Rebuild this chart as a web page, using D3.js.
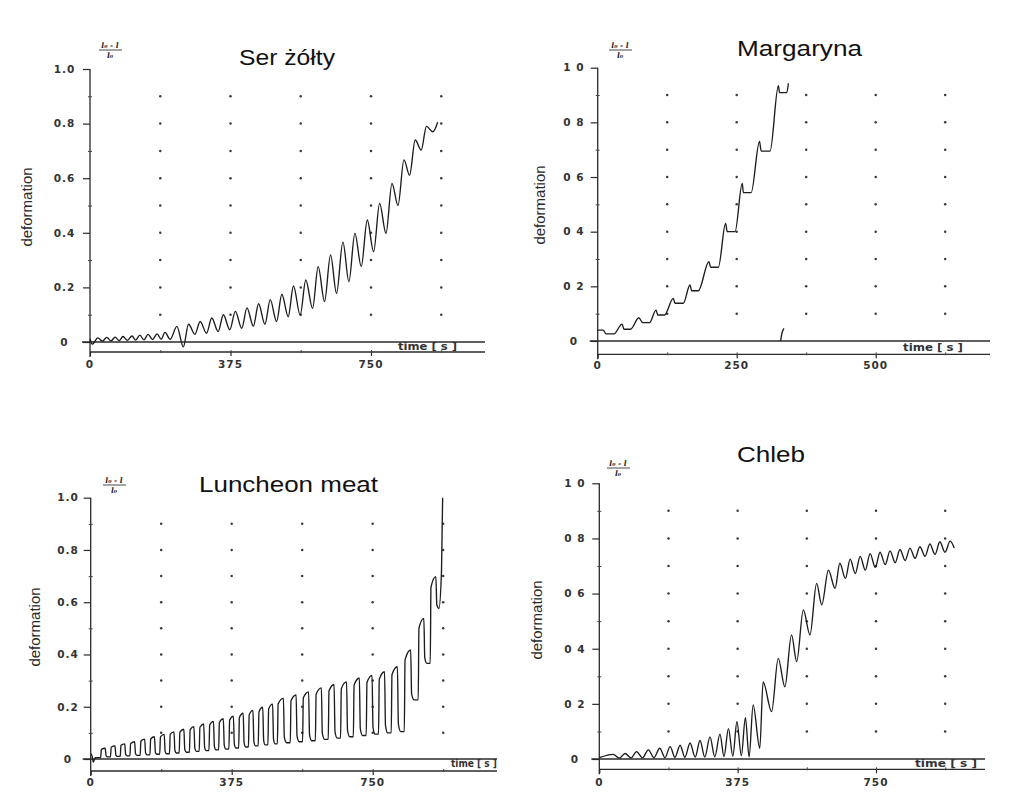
<!DOCTYPE html>
<html>
<head>
<meta charset="utf-8">
<title>Deformation vs time</title>
<script src="https://d3js.org/d3.v7.min.js"></script>
<style>
  body { margin: 0; background: #fff; }
  svg { display: block; }
  .title { font-family: "Liberation Sans", Arial, sans-serif; font-size: 22px; fill: #111; }
  .ylab, .xlab { font-family: "DejaVu Sans", sans-serif; font-weight: bold; font-size: 10.5px; fill: #333; }
  .axtitle { font-family: "Liberation Sans Narrow", "Liberation Sans", Arial, sans-serif; font-size: 15px; fill: #2a2a2a; }
  .timelab { font-family: "DejaVu Sans", sans-serif; font-size: 10px; font-weight: bold; fill: #333; }
  .frac { font-family: "DejaVu Serif", serif; font-style: italic; font-weight: bold; font-size: 7.5px; fill: #222; }
  .curve { fill: none; stroke: #1c1c1c; stroke-width: 1.35; }
  .axis-line { stroke: #2a2a2a; stroke-width: 1.3; }
  .dot { fill: #3a3a3a; }
</style>
</head>
<body>
<div id="vis"></div>
<script>
// ---- data ----

// Ser żółty: peaks and valleys of the creep / recovery cycles
const serPeakT = [21, 45, 67, 88, 112, 133, 155, 179, 200, 232, 263, 294, 325, 356, 388, 419, 450, 481, 512, 543,
                  576, 609, 642, 675, 707, 740, 773, 806, 838, 868, 898, 928];
const serPeakV = [0.015, 0.017, 0.018, 0.02, 0.022, 0.025, 0.028, 0.03, 0.035, 0.057, 0.065, 0.075, 0.088, 0.1, 0.112,
                  0.125, 0.14, 0.155, 0.175, 0.205, 0.227, 0.276, 0.319, 0.367, 0.398, 0.447, 0.508, 0.581, 0.667, 0.74, 0.79, 0.805];
const serValleyT = [0, 6, 33, 56, 78, 100, 122, 144, 167, 190, 214, 249, 280, 311, 342, 373, 405, 436, 467, 498, 529,
                    561, 594, 626, 658, 691, 724, 757, 790, 822, 853, 884, 915];
const serValleyV = [0.012, -0.008, 0.003, 0.004, 0.005, 0.006, 0.007, 0.008, 0.009, 0.01, 0.01, -0.018, 0.028, 0.032,
                    0.038, 0.045, 0.05, 0.058, 0.065, 0.075, 0.093, 0.099, 0.123, 0.148, 0.178, 0.221, 0.276, 0.331,
                    0.398, 0.5, 0.611, 0.703, 0.77];

// Margaryna: step curve
const margT = [0, 10, 15, 29, 44, 47, 59, 74, 81, 93, 105, 108, 120, 136, 139, 154, 166, 169, 181, 200, 203, 217,
               230, 233, 247, 260, 262, 276, 291, 294, 310, 325, 327, 340, 343];
const margV = [0.04, 0.04, 0.026, 0.026, 0.062, 0.043, 0.043, 0.085, 0.067, 0.067, 0.113, 0.095, 0.095, 0.156, 0.138,
               0.138, 0.205, 0.184, 0.184, 0.29, 0.27, 0.27, 0.43, 0.40, 0.40, 0.577, 0.543, 0.543, 0.73, 0.695, 0.695,
               0.934, 0.909, 0.909, 0.943];
const margTailT = [329, 331, 335];
const margTailV = [0, 0.025, 0.046];

// Luncheon meat: square-wave cycles (centre of loaded plateau, top, bottom after unloading)
const lunT = [33, 59, 85, 111, 138, 164, 190, 216, 242, 269, 295, 321, 347, 374, 400, 426, 452, 478, 505, 539,
              572, 606, 640, 673, 707, 741, 774, 808, 843, 879, 911];
const lunTop = [0.041, 0.05, 0.058, 0.066, 0.076, 0.085, 0.094, 0.104, 0.114, 0.124, 0.134, 0.144, 0.154, 0.164,
                0.175, 0.186, 0.198, 0.21, 0.232, 0.245, 0.257, 0.272, 0.285, 0.295, 0.31, 0.32, 0.334, 0.353,
                0.417, 0.538, 0.698];
const lunBot = [0.008, 0.01, 0.012, 0.014, 0.016, 0.018, 0.02, 0.023, 0.026, 0.029, 0.032, 0.035, 0.038, 0.042,
                0.046, 0.05, 0.054, 0.058, 0.062, 0.066, 0.07, 0.075, 0.08, 0.085, 0.09, 0.095, 0.1, 0.105,
                0.226, 0.366, 0.576];
const lunStartT = [0, 4, 7, 12];
const lunStartV = [0.02, 0.01, -0.012, 0.005];
const lunEndT = [933, 936];
const lunEndV = [0.72, 1.0];

// Chleb: peaks and valleys
const chlPeakT = [38, 70, 101, 133, 164, 192, 219, 246, 273, 300, 327, 350, 373, 396, 417, 444, 485, 521, 553, 589,
                  621, 652, 680, 707, 734, 761, 788, 815, 842, 869, 896, 923, 951];
const chlPeakV = [0.017, 0.02, 0.027, 0.033, 0.039, 0.045, 0.05, 0.058, 0.067, 0.08, 0.09, 0.11, 0.135, 0.15, 0.196,
                  0.28, 0.365, 0.45, 0.541, 0.637, 0.685, 0.71, 0.725, 0.735, 0.745, 0.75, 0.755, 0.76, 0.765, 0.77,
                  0.78, 0.788, 0.79];
const chlValleyT = [0, 54, 86, 117, 148, 178, 205, 232, 260, 286, 313, 338, 362, 385, 406, 435, 467, 503, 535, 571,
                    603, 639, 667, 694, 721, 748, 775, 802, 829, 856, 883, 910, 937, 962];
const chlValleyV = [0.005, 0.003, 0.004, 0.004, 0.005, 0.005, 0.006, 0.006, 0.007, 0.007, 0.008, 0.009, 0.01, 0.012,
                    0.008, 0.039, 0.172, 0.262, 0.353, 0.45, 0.559, 0.619, 0.655, 0.673, 0.685, 0.695, 0.705, 0.712,
                    0.72, 0.728, 0.735, 0.742, 0.75, 0.765];

const yTicks = [0, 0.2, 0.4, 0.6, 0.8, 1.0];
const yLabels1 = ["0", "0.2", "0.4", "0.6", "0.8", "1.0"];
const yLabels2 = ["0", "0 2", "0 4", "0 6", "0 8", "1 0"];
const xTicks750 = [0, 375, 750];
const xTicks500 = [0, 250, 500];

// ---- helpers to turn the read values into point lists ----
function zipPts(ts, vs) { return ts.map((t, i) => [t, vs[i]]); }
function mergePts(a, b) { return a.concat(b).sort((p, q) => p[0] - q[0]); }

// square-ish wave: rise, plateau, fall, plateau
function squareWave(ts, tops, bots, startPts, endPts) {
  const pts = startPts.slice();
  ts.forEach((c, i) => {
    const per = i < ts.length - 1 ? ts[i + 1] - c : c - ts[i - 1];
    const h = per * 0.25;
    const bPrev = i === 0 ? startPts[startPts.length - 1][1] : bots[i - 1];
    pts.push([c - h, bPrev]);
    pts.push([c - h + 2, bPrev + 0.88 * (tops[i] - bPrev)]);
    pts.push([c + h - 1, tops[i]]);
    pts.push([c + h + 1.5, bots[i] + 0.12 * (tops[i] - bots[i])]);
    pts.push([c + per * 0.5 - 1, bots[i]]);
  });
  return pts.concat(endPts);
}

const W = 1013, H = 802;
const svg = d3.select("#vis").append("svg").attr("width", W).attr("height", H);

const panels = [
  { title: "Ser żółty", titleX: 239, titleY: 65, titleW: 96,
    left: 90, top: 69, zero: 342, base: 352, right: 485,
    xMax: 750, xMaxPx: 371, xTicks: xTicks750, gridStep: 187.5, gridMax: 937.5,
    ylabX: 64.5, ylabels: yLabels1, xlabY: 368,
    defX: 27, defY: 207, fracX: 110, fracY: 50, timeX: 398, timeY: 350, timeW: 59,
    series: [mergePts(zipPts(serPeakT, serPeakV), zipPts(serValleyT, serValleyV))] },
  { title: "Margaryna", titleX: 737, titleY: 56, titleW: 125,
    left: 597.7, top: 67.7, zero: 341, base: 354.3, right: 990,
    xMax: 500, xMaxPx: 875.7, xTicks: xTicks500, gridStep: 125, gridMax: 625,
    ylabX: 574, ylabels: yLabels2, xlabY: 369,
    defX: 540, defY: 205, fracX: 620, fracY: 50, timeX: 903, timeY: 351, timeW: 60,
    series: [zipPts(margT, margV), zipPts(margTailT, margTailV)] },
  { title: "Luncheon meat", titleX: 199, titleY: 492, titleW: 179,
    left: 90.7, top: 497.7, zero: 759, base: 771, right: 497,
    xMax: 750, xMaxPx: 372.7, xTicks: xTicks750, gridStep: 187.5, gridMax: 937.5,
    ylabX: 68, ylabels: yLabels1, xlabY: 786,
    defX: 35, defY: 627, fracX: 114, fracY: 485, timeX: 451, timeY: 767, timeW: 46,
    series: [squareWave(lunT, lunTop, lunBot, zipPts(lunStartT, lunStartV), zipPts(lunEndT, lunEndV))] },
  { title: "Chleb", titleX: 737, titleY: 462, titleW: 68,
    left: 599.3, top: 483.3, zero: 759, base: 769.3, right: 985,
    xMax: 750, xMaxPx: 876, xTicks: xTicks750, gridStep: 187.5, gridMax: 937.5,
    ylabX: 575, ylabels: yLabels2, xlabY: 786,
    defX: 537, defY: 620, fracX: 618, fracY: 468, timeX: 915, timeY: 767, timeW: 62,
    series: [mergePts(zipPts(chlPeakT, chlPeakV), zipPts(chlValleyT, chlValleyV))] }
];

panels.forEach(drawPanel);

function drawPanel(p) {
  const x = d3.scaleLinear().domain([0, p.xMax]).range([p.left, p.xMaxPx]);
  const y = d3.scaleLinear().domain([0, 1]).range([p.zero, p.top]);
  const g = svg.append("g");

  // dotted grid
  const cols = d3.range(p.gridStep, p.gridMax + 1, p.gridStep);
  const rows = d3.range(1, 10).map(d => d / 10);
  cols.forEach(c => {
    g.selectAll(null).data(rows).enter().append("circle")
      .attr("class", "dot")
      .attr("cx", x(c)).attr("cy", d => y(d)).attr("r", 1.25);
  });

  // y axis
  g.append("line").attr("class", "axis-line")
    .attr("x1", p.left).attr("x2", p.left).attr("y1", y(1)).attr("y2", p.base + 5);
  g.append("g").attr("transform", `translate(${p.left},0)`)
    .call(d3.axisLeft(y).tickValues(yTicks).tickSize(7).tickFormat(""))
    .call(a => a.select(".domain").remove())
    .call(a => a.selectAll("line").attr("stroke", "#2a2a2a").attr("stroke-width", 1.2));
  g.append("g").attr("transform", `translate(${p.left + 2},0)`)
    .call(d3.axisLeft(y).tickValues([0.1, 0.3, 0.5, 0.7, 0.9]).tickSize(4).tickFormat(""))
    .call(a => a.select(".domain").remove())
    .call(a => a.selectAll("line").attr("stroke", "#444").attr("stroke-width", 1));

  g.selectAll(null).data(yTicks).enter().append("text")
    .attr("class", "ylab")
    .attr("x", p.ylabX).attr("y", d => y(d)).attr("dy", "0.36em")
    .attr("text-anchor", "middle")
    .style("letter-spacing", "1px")
    .text((d, i) => p.ylabels[i]);

  // zero line and time axis
  g.append("line").attr("class", "axis-line")
    .attr("x1", p.left - 8).attr("x2", p.right).attr("y1", y(0)).attr("y2", y(0));
  g.append("line").attr("class", "axis-line")
    .attr("x1", p.left).attr("x2", p.right).attr("y1", p.base).attr("y2", p.base);
  g.append("g").attr("transform", `translate(0,${p.base})`)
    .call(d3.axisBottom(x).tickValues(p.xTicks).tickSize(4).tickFormat(""))
    .call(a => a.select(".domain").remove())
    .call(a => a.selectAll("line").attr("stroke", "#2a2a2a").attr("stroke-width", 1.2));
  g.append("g").attr("transform", `translate(0,${p.base - 2})`)
    .call(d3.axisBottom(x).tickValues(cols).tickSize(3).tickFormat(""))
    .call(a => a.select(".domain").remove())
    .call(a => a.selectAll("line").attr("stroke", "#444"));

  g.selectAll(null).data(p.xTicks).enter().append("text")
    .attr("class", "xlab")
    .attr("x", d => x(d)).attr("y", p.xlabY)
    .attr("text-anchor", "middle")
    .style("letter-spacing", "1px")
    .text(d => d);

  g.append("text").attr("class", "timelab")
    .attr("x", p.timeX).attr("y", p.timeY)
    .attr("textLength", p.timeW).attr("lengthAdjust", "spacingAndGlyphs")
    .text("time [ s ]");

  // axis title
  g.append("text").attr("class", "axtitle")
    .attr("transform", `translate(${p.defX},${p.defY}) rotate(-90)`)
    .attr("text-anchor", "middle").attr("dy", "0.35em")
    .text("deformation");

  // (l0 - l) / l0
  const f = g.append("g").attr("transform", `translate(${p.fracX},${p.fracY})`);
  f.append("text").attr("class", "frac").attr("text-anchor", "middle").attr("y", -2).text("l₀ - l");
  f.append("line").attr("x1", -11).attr("x2", 12).attr("stroke", "#333").attr("stroke-width", 0.9);
  f.append("text").attr("class", "frac").attr("text-anchor", "middle").attr("y", 8).text("l₀");

  // title
  g.append("text").attr("class", "title")
    .attr("x", p.titleX).attr("y", p.titleY)
    .attr("textLength", p.titleW).attr("lengthAdjust", "spacingAndGlyphs")
    .text(p.title);

  // curves
  const line = d3.line().x(d => x(d[0])).y(d => y(d[1])).curve(d3.curveMonotoneX);
  p.series.forEach(s => {
    g.append("path").attr("class", "curve").attr("d", line(s));
  });
}
</script>
</body>
</html>
